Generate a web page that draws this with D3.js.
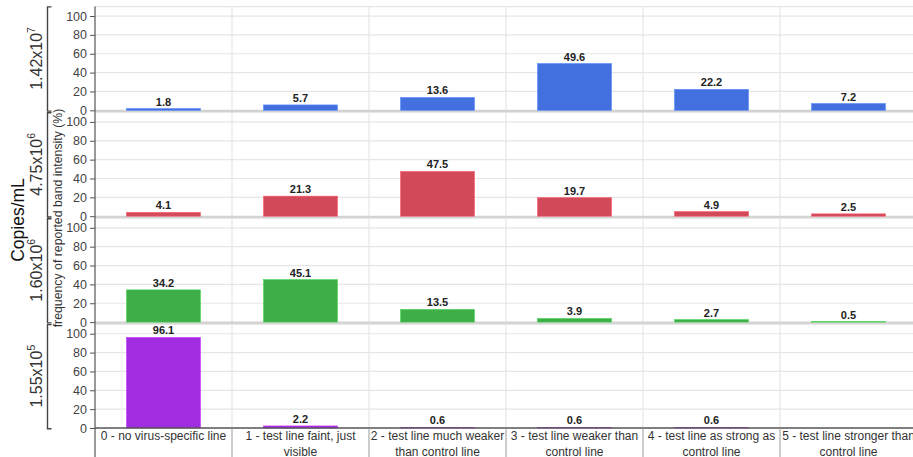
<!DOCTYPE html>
<html>
<head>
<meta charset="utf-8">
<script src="https://cdn.jsdelivr.net/npm/d3@7"></script>
<style>
  html, body { margin: 0; padding: 0; background: #fff; }
  svg { display: block; font-family: "Liberation Sans", Arial, sans-serif; }
</style>
</head>
<body>
<script>
// Band-intensity categories (x axis)
const categories = [
  "0 - no virus-specific line",
  "1 - test line faint, just visible",
  "2 - test line much weaker than control line",
  "3 - test line weaker than control line",
  "4 - test line as strong as control line",
  "5 - test line stronger than control line"
];

// Virus concentrations, one per panel: mantissa and power of ten
const concMantissa = ["1.42", "4.75", "1.60", "1.55"];
const concExponent = ["7", "6", "6", "5"];

// Frequency of reported band intensity (%) per concentration
const freq142e7 = [1.8, 5.7, 13.6, 49.6, 22.2, 7.2];
const freq475e6 = [4.1, 21.3, 47.5, 19.7, 4.9, 2.5];
const freq160e6 = [34.2, 45.1, 13.5, 3.9, 2.7, 0.5];
const freq155e5 = [96.1, 2.2, 0.6, 0.6, 0.6, null];

const yTicks = [0, 20, 40, 60, 80, 100];

const panelColors = ["#4370de", "#d24a5a", "#3dae48", "#a12ce0"];
const panelSeries = [freq142e7, freq475e6, freq160e6, freq155e5];

const W = 913, H = 457;
const left = 95, right = 917;
const panelTop0 = 6.6, panelStride = 105.9, panelH = 103.7;

const svg = d3.select("body").append("svg")
  .attr("width", W).attr("height", H);

const x = d3.scaleBand().domain(categories).range([left, right]).paddingInner(0).paddingOuter(0);
const barW = x.bandwidth() * 0.54;

panelSeries.forEach((vals, i) => {
  const top = panelTop0 + panelStride * i;
  const y = d3.scaleLinear().domain([0, 110]).range([top + panelH, top]);
  const g = svg.append("g");

  // horizontal gridlines
  g.selectAll("line.hgrid").data(yTicks.filter(t => t > 0).concat([110]))
    .join("line")
    .attr("x1", left).attr("x2", right)
    .attr("y1", d => y(d)).attr("y2", d => y(d))
    .attr("stroke", "#e6e6e6").attr("stroke-width", 1.2);

  // vertical gridlines at category boundaries
  g.selectAll("line.vgrid").data(categories.slice(1))
    .join("line")
    .attr("x1", d => x(d)).attr("x2", d => x(d))
    .attr("y1", y(110)).attr("y2", y(0))
    .attr("stroke", "#e6e6e6").attr("stroke-width", 1.2);

  // zero line
  if (i < panelSeries.length - 1) {
    g.append("line")
      .attr("x1", left).attr("x2", right)
      .attr("y1", y(0) + 0.8).attr("y2", y(0) + 0.8)
      .attr("stroke", "#d2d2d2").attr("stroke-width", 2.6);
  }

  const data = categories.map((c, k) => ({ c, v: vals[k] })).filter(d => d.v != null);

  // bars
  const col = d3.color(panelColors[i]);
  g.selectAll("rect.bar").data(data)
    .join("rect")
    .attr("x", d => x(d.c) + (x.bandwidth() - barW) / 2)
    .attr("width", barW)
    .attr("y", d => y(d.v))
    .attr("height", d => y(0) - y(d.v))
    .attr("fill", panelColors[i])
    .attr("stroke", col.brighter(0.6))
    .attr("stroke-width", 0.6);

  // value labels
  g.selectAll("text.val").data(data)
    .join("text")
    .attr("x", d => x(d.c) + x.bandwidth() / 2)
    .attr("y", d => y(d.v) - 3)
    .attr("text-anchor", "middle")
    .attr("font-size", 11)
    .attr("font-weight", "bold")
    .attr("fill", "#222")
    .text(d => d.v.toFixed(1));

  // y axis ticks
  const ax = g.append("g")
    .attr("transform", `translate(${left},0)`)
    .call(d3.axisLeft(y).tickValues(yTicks).tickSize(5).tickPadding(3));
  ax.select(".domain").remove();
  ax.selectAll(".tick line").attr("stroke", "#555");
  ax.selectAll(".tick text")
    .attr("font-size", 12.5)
    .attr("font-family", "Liberation Sans, Arial, sans-serif")
    .attr("fill", "#444");

  // bracket
  const bx = 47.5, bt = top + 0.3, bb = y(0) + 0.8;
  g.append("path")
    .attr("d", `M${bx + 4},${bt}H${bx}V${bb}H${bx + 4}`)
    .attr("fill", "none").attr("stroke", "#444").attr("stroke-width", 1.4);

  // concentration label
  const cy = (top + y(0)) / 2;
  const lab = g.append("text")
    .attr("transform", `translate(42,${cy}) rotate(-90)`)
    .attr("text-anchor", "middle")
    .attr("font-size", 16)
    .attr("fill", "#333");
  lab.append("tspan").text(concMantissa[i] + "x10");
  lab.append("tspan").attr("font-size", 10.5).attr("dy", -7).text(concExponent[i]);
});

// left axis line
svg.append("line")
  .attr("x1", left).attr("x2", left)
  .attr("y1", panelTop0).attr("y2", H)
  .attr("stroke", "#555").attr("stroke-width", 1.2);

// bottom axis line
const baseY = panelTop0 + panelStride * 3 + panelH;
svg.append("line")
  .attr("x1", left).attr("x2", right)
  .attr("y1", baseY).attr("y2", baseY)
  .attr("stroke", "#555").attr("stroke-width", 1.4);

// category dividers below the axis
svg.selectAll("line.cdiv").data(categories.slice(1))
  .join("line")
  .attr("x1", d => x(d)).attr("x2", d => x(d))
  .attr("y1", baseY).attr("y2", H)
  .attr("stroke", "#999").attr("stroke-width", 1);

// category labels, wrapped to the band width
const catText = svg.selectAll("text.cat").data(categories)
  .join("text")
  .attr("x", d => x(d) + x.bandwidth() / 2)
  .attr("y", 439.5)
  .attr("text-anchor", "middle")
  .attr("font-size", 12)
  .attr("fill", "#333");

catText.each(function(d) {
  const t = d3.select(this);
  const words = d.split(" ");
  const maxW = x.bandwidth() - 1;
  let line = [];
  let tspan = t.append("tspan").attr("x", x(d) + x.bandwidth() / 2).attr("dy", 0);
  let lineNo = 0;
  words.forEach(w => {
    line.push(w);
    tspan.text(line.join(" "));
    if (tspan.node().getComputedTextLength() > maxW && line.length > 1) {
      line.pop();
      tspan.text(line.join(" "));
      line = [w];
      lineNo++;
      tspan = t.append("tspan").attr("x", x(d) + x.bandwidth() / 2).attr("dy", 16).text(w);
    }
  });
});

// axis titles
svg.append("text")
  .attr("transform", "translate(62,218) rotate(-90)")
  .attr("text-anchor", "middle")
  .attr("font-size", 12.3)
  .attr("fill", "#333")
  .text("frequency of reported band intensity (%)");

svg.append("text")
  .attr("transform", "translate(24,220) rotate(-90)")
  .attr("text-anchor", "middle")
  .attr("font-size", 17.5)
  .attr("fill", "#111")
  .text("Copies/mL");
</script>
</body>
</html>
